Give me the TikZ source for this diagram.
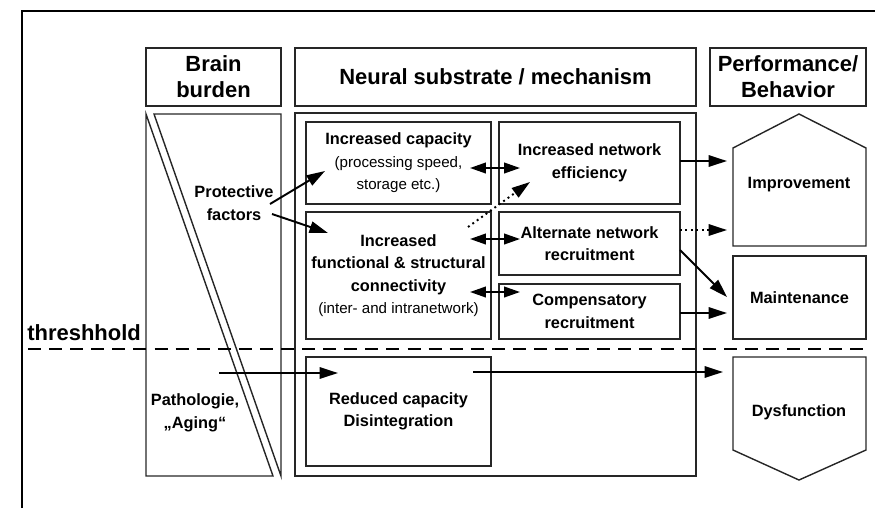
\documentclass[tikz,border=0pt]{standalone}
\usepackage{fontspec}
\setmainfont{Liberation Sans}
\usetikzlibrary{arrows.meta}

\newcommand{\fCabecera}{\fontsize{12.5}{14.8}\selectfont\bfseries}
\newcommand{\fCuerpo}{\fontsize{9.3}{12.8}\selectfont\bfseries}
\newcommand{\fNormal}{\fontsize{8.6}{12.8}\selectfont\mdseries}

\newcommand{\coordFlechas}{
\coordinate (pfA) at (270,204);
\coordinate (pfB) at (272,214);
\coordinate (capA) at (325,171);
\coordinate (conA) at (328,233);
\coordinate (capE) at (470,168);
\coordinate (efiE) at (520,168);
\coordinate (conP) at (468,227);
\coordinate (efiP) at (530,182);
\coordinate (conB) at (470,239);
\coordinate (altB) at (520,239);
\coordinate (conC) at (470,292);
\coordinate (comC) at (520,292);
\coordinate (efiS) at (680,161);
\coordinate (mejA) at (727,161);
\coordinate (altS) at (680,230);
\coordinate (mejB) at (727,230);
\coordinate (altT) at (680,250);
\coordinate (manA) at (727,297);
\coordinate (comS) at (680,313);
\coordinate (manB) at (727,313);
\coordinate (patS) at (219,373);
\coordinate (redA) at (338,373);
\coordinate (redS) at (473,372);
\coordinate (disA) at (723,372);
}

\tikzset{
marco/.style={black,line width=0.6pt},
borde/.style={black!85,line width=0.8pt},
cabecera/.style={draw,black!85,line width=0.8pt,text=black,align=center,inner sep=0pt,minimum height=1.16cm,font=\fCabecera},
caja/.style={draw,black!85,line width=0.8pt,text=black,align=center,inner sep=0pt,font=\fCuerpo},
texto/.style={align=center,inner sep=0pt,font=\fCuerpo},
flecha/.style={-{Triangle[length=10.5pt,width=6.5pt]},line width=1.1pt},
flechaDoble/.style={{Triangle[length=9pt,width=6pt]}-{Triangle[length=9pt,width=6pt]},line width=1.1pt},
punteada/.style={flecha,dotted},
umbralLinea/.style={black,line width=1.5pt,dash pattern=on 7.4pt off 4.6pt}
}

\begin{document}
\begin{tikzpicture}[x=0.02cm,y=-0.02cm]
    \useasboundingbox (0,0) rectangle (875,508);
    \draw[marco] (22,508) -- (22,11) -- (875,11);
    \coordFlechas

    % cabeceras
    \node[cabecera,minimum width=2.7cm] (hCarga) at (213.5,77) {Brain\\burden};
    \node[cabecera,minimum width=8.02cm] (hSustrato) at (495.5,77) {Neural substrate / mechanism};
    \node[cabecera,minimum width=3.12cm] (hConducta) at (788,77) {Performance/\\Behavior};

    % columna izquierda
    \draw[borde] (146,114) -- (273,476) -- (146,476) -- cycle;
    \draw[borde] (154,114) -- (281,114) -- (281,476) -- cycle;
    \node[texto] (protectores) at (234,203) {Protective\\factors};
    \node[texto] (patologia) at (195,413) {Pathologie,\\„Aging“};

    % sustrato
    \node[caja,minimum width=8.02cm,minimum height=7.26cm] (sustrato) at (495.5,294.5) {};
    \node[caja,minimum width=3.7cm,minimum height=1.64cm] (capacidad) at (398.5,163)
        {Increased capacity\\{\fNormal (processing speed,}\\{\fNormal storage etc.)}};
    \node[caja,minimum width=3.62cm,minimum height=1.64cm] (eficiencia) at (589.5,163)
        {Increased network\\efficiency};
    \node[caja,minimum width=3.7cm,minimum height=2.54cm] (conectividad) at (398.5,275.5)
        {Increased\\functional \& structural\\connectivity\\{\fNormal (inter- and intranetwork)}};
    \node[caja,minimum width=3.62cm,minimum height=1.26cm] (alternativa) at (589.5,243.5)
        {Alternate network\\recruitment};
    \node[caja,minimum width=3.62cm,minimum height=1.1cm] (compensatoria) at (589.5,311.5)
        {Compensatory\\recruitment};
    \node[caja,minimum width=3.7cm,minimum height=2.18cm] (reducida) at (398.5,411.5)
        {Reduced capacity\\Disintegration};

    % conducta
    \draw[borde] (733,148) -- (799,114) -- (866,148) -- (866,246) -- (733,246) -- cycle;
    \node[texto] (mejora) at (799,185) {Improvement};
    \node[caja,minimum width=2.66cm,minimum height=1.66cm] (mantenimiento) at (799.5,297.5) {Maintenance};
    \draw[borde] (733,357) -- (866,357) -- (866,450) -- (799,480) -- (733,450) -- cycle;
    \node[texto] (disfuncion) at (799,412) {Dysfunction};

    % umbral
    \node[texto,font=\fCabecera,anchor=base west] (umbral) at (27,340) {threshhold};
    \draw[umbralLinea] (28,349) -- (866,349);

    % flechas
    \draw[flecha] (pfA) -- (capA);
    \draw[flecha] (pfB) -- (conA);
    \draw[flechaDoble] (capE) -- (efiE);
    \draw[punteada] (conP) -- (efiP);
    \draw[flechaDoble] (conB) -- (altB);
    \draw[flechaDoble] (conC) -- (comC);
    \draw[flecha] (efiS) -- (mejA);
    \draw[punteada] (altS) -- (mejB);
    \draw[flecha] (altT) -- (manA);
    \draw[flecha] (comS) -- (manB);
    \draw[flecha] (patS) -- (redA);
    \draw[flecha] (redS) -- (disA);
\end{tikzpicture}
\end{document}
